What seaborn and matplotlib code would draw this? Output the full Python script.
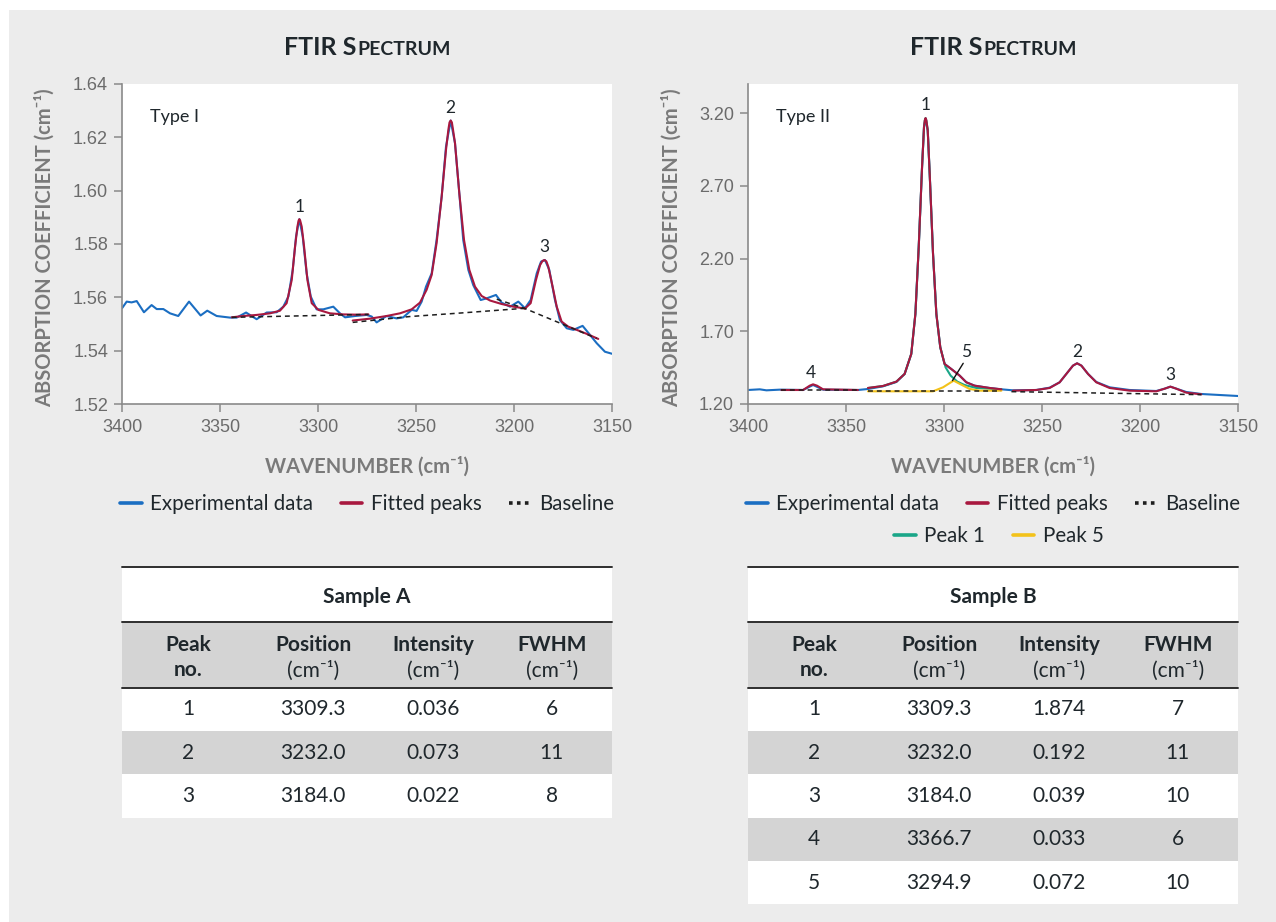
import matplotlib
matplotlib.use("Agg")
import matplotlib.pyplot as plt
from matplotlib.lines import Line2D
from matplotlib.patches import Rectangle
from matplotlib.ticker import FormatStrFormatter
import seaborn as sns

# ------------------------------------------------------------------
# Sample A (Type I) spectrum
# ------------------------------------------------------------------
a_exp_wn = [3400.0, 3397.6, 3395.1, 3392.5, 3388.8, 3384.9, 3382.3, 3378.9, 3375.5, 3371.3,
            3365.8, 3359.9, 3356.5, 3351.7, 3344.9, 3341.5, 3336.7, 3331.3, 3326.2, 3321.1,
            3317.7, 3315.1, 3312.9, 3311.2, 3309.5, 3307.8, 3305.8, 3303.7, 3300.7, 3297.3,
            3292.2, 3288.8, 3286.2, 3281.1, 3275.2, 3272.6, 3270.1, 3265.0, 3259.9, 3256.5,
            3252.2, 3249.7, 3247.1, 3244.9, 3242.0, 3239.5, 3236.9, 3234.7, 3232.3, 3230.1,
            3227.9, 3225.9, 3223.3, 3220.8, 3217.0, 3214.0, 3209.2, 3206.3, 3202.0, 3197.8,
            3194.4, 3191.5, 3188.4, 3186.2, 3184.2, 3182.0, 3179.1, 3176.6, 3173.1, 3169.7,
            3165.0, 3161.2, 3157.8, 3153.6, 3149.8]
a_exp_abs = [1.5559, 1.5584, 1.5581, 1.5586, 1.5544, 1.5571, 1.5556, 1.5556, 1.5540, 1.5530,
             1.5584, 1.5532, 1.5550, 1.5530, 1.5524, 1.5524, 1.5543, 1.5518, 1.5543, 1.5544,
             1.5565, 1.5603, 1.5703, 1.5828, 1.5893, 1.5828, 1.5690, 1.5603, 1.5555, 1.5555,
             1.5565, 1.5540, 1.5525, 1.5530, 1.5534, 1.5528, 1.5506, 1.5530, 1.5521, 1.5525,
             1.5553, 1.5549, 1.5584, 1.5640, 1.5690, 1.5815, 1.5978, 1.6165, 1.6263, 1.6178,
             1.5990, 1.5815, 1.5703, 1.5646, 1.5590, 1.5596, 1.5609, 1.5580, 1.5565, 1.5584,
             1.5559, 1.5590, 1.5690, 1.5734, 1.5740, 1.5703, 1.5590, 1.5515, 1.5484, 1.5478,
             1.5493, 1.5459, 1.5428, 1.5396, 1.5388]

a_fit1_wn = [3344.0, 3338.1, 3331.3, 3324.5, 3319.4, 3316.0, 3313.4, 3311.7, 3310.5, 3309.9,
             3309.5, 3309.1, 3308.3, 3307.1, 3305.4, 3303.2, 3299.8, 3293.9, 3287.1, 3280.3,
             3274.3]
a_fit1_abs = [1.5525, 1.5530, 1.5534, 1.5540, 1.5550, 1.5578, 1.5665, 1.5790, 1.5865, 1.5888,
              1.5893, 1.5888, 1.5865, 1.5790, 1.5665, 1.5578, 1.5553, 1.5540, 1.5536, 1.5535,
              1.5536]

a_fit2_wn = [3282.3, 3273.5, 3265.0, 3258.2, 3252.2, 3248.0, 3244.6, 3242.0, 3239.5, 3236.9,
             3234.7, 3233.5, 3232.9, 3232.3, 3231.7, 3231.1, 3230.1, 3227.9, 3225.5, 3222.8,
             3219.9, 3216.5, 3212.2, 3206.3, 3200.3, 3194.4]
a_fit2_abs = [1.5513, 1.5520, 1.5530, 1.5540, 1.5555, 1.5580, 1.5628, 1.5684, 1.5803, 1.5978,
              1.6153, 1.6228, 1.6256, 1.6263, 1.6256, 1.6228, 1.6178, 1.5990, 1.5815, 1.5703,
              1.5640, 1.5605, 1.5588, 1.5575, 1.5565, 1.5558]

a_fit3_wn = [3194.4, 3191.5, 3188.8, 3186.7, 3185.5, 3184.5, 3183.5, 3182.5, 3180.3, 3178.2,
             3175.7, 3172.3, 3168.0, 3162.9, 3157.0]
a_fit3_abs = [1.5558, 1.5578, 1.5665, 1.5721, 1.5736, 1.5740, 1.5735, 1.5715, 1.5640, 1.5565,
              1.5509, 1.5490, 1.5478, 1.5463, 1.5444]

a_base1_wn = [3344.0, 3274.3]
a_base1_abs = [1.5525, 1.5536]
a_base2_wn = [3282.3, 3253.1, 3227.6, 3194.4]
a_base2_abs = [1.5506, 1.5528, 1.5541, 1.5559]
a_base3_wn = [3208.8, 3194.4, 3157.8]
a_base3_abs = [1.5593, 1.5558, 1.5446]

a_label_text = ["1", "2", "3"]
a_label_wn = [3309.5, 3232.3, 3184.5]
a_label_abs = [1.5940, 1.6309, 1.5790]

# ------------------------------------------------------------------
# Sample B (Type II) spectrum
# ------------------------------------------------------------------
b_exp_wn = [3400.0, 3394.0, 3390.6, 3383.8, 3371.9, 3366.8, 3361.7, 3343.9, 3338.8, 3331.1,
            3324.3, 3320.1, 3316.7, 3314.6, 3312.9, 3311.2, 3310.2, 3309.4, 3308.3, 3307.3,
            3305.6, 3303.9, 3301.9, 3299.7, 3296.3, 3292.0, 3288.6, 3284.4, 3276.7, 3270.7,
            3264.8, 3252.9, 3246.1, 3241.0, 3237.6, 3234.2, 3232.1, 3229.9, 3226.5, 3222.3,
            3215.5, 3205.3, 3191.7, 3187.4, 3184.5, 3181.5, 3176.4, 3168.7, 3159.4, 3150.0]
b_exp_abs = [1.2963, 1.3009, 1.2940, 1.2986, 1.2963, 1.3307, 1.2986, 1.2963, 1.3032, 1.3216,
             1.3514, 1.4064, 1.5440, 1.8193, 2.2780, 2.8284, 3.1037, 3.1610, 3.0807, 2.7826,
             2.2321, 1.8193, 1.5899, 1.4752, 1.4408, 1.3950, 1.3491, 1.3261, 1.3101, 1.3009,
             1.2940, 1.2963, 1.3124, 1.3491, 1.4064, 1.4638, 1.4798, 1.4638, 1.4064, 1.3514,
             1.3147, 1.2963, 1.2894, 1.3055, 1.3193, 1.3055, 1.2826, 1.2688, 1.2619, 1.2550]

b_fit1_wn = [3383.0, 3371.9, 3368.5, 3366.8, 3364.8, 3361.7, 3343.9]
b_fit1_abs = [1.2963, 1.2963, 1.3261, 1.3353, 1.3261, 1.3009, 1.2963]

b_fit2_wn = [3338.8, 3331.1, 3324.3, 3320.1, 3316.7, 3314.6, 3312.9, 3311.2, 3310.2, 3309.8,
             3309.4, 3309.0, 3308.3, 3307.3, 3305.6, 3303.9, 3301.9, 3299.7, 3296.3, 3292.0,
             3288.6, 3284.4, 3276.7, 3270.7]
b_fit2_abs = [1.3101, 1.3239, 1.3537, 1.4064, 1.5440, 1.8193, 2.2780, 2.8284, 3.1037, 3.1500,
              3.1656, 3.1500, 3.0807, 2.7826, 2.2321, 1.8193, 1.5899, 1.4752, 1.4408, 1.3950,
              1.3491, 1.3261, 1.3101, 1.3009]

b_fit3_wn = [3264.8, 3252.9, 3246.1, 3241.0, 3237.6, 3234.2, 3232.1, 3229.9, 3226.5, 3222.3,
             3215.5, 3205.3, 3191.7, 3187.4, 3184.5, 3181.5, 3176.4, 3168.7]
b_fit3_abs = [1.2917, 1.2963, 1.3101, 1.3491, 1.4064, 1.4638, 1.4798, 1.4638, 1.4064, 1.3491,
              1.3101, 1.2917, 1.2872, 1.3055, 1.3193, 1.3055, 1.2780, 1.2665]

b_peak1_wn = [3338.8, 3331.1, 3324.3, 3320.1, 3316.7, 3314.6, 3312.9, 3311.2, 3310.2, 3309.8,
              3309.4, 3309.0, 3308.3, 3307.3, 3305.6, 3303.9, 3301.9, 3299.2, 3296.6, 3293.2,
              3289.5, 3283.5, 3270.7]
b_peak1_abs = [1.3101, 1.3239, 1.3537, 1.4064, 1.5440, 1.8193, 2.2780, 2.8284, 3.1037, 3.1500,
               3.1656, 3.1500, 3.0807, 2.7826, 2.2321, 1.8193, 1.5899, 1.4523, 1.3950, 1.3537,
               1.3307, 1.3101, 1.3009]

b_peak5_wn = [3338.8, 3305.6, 3300.5, 3295.1, 3291.2, 3286.9, 3281.8, 3270.7]
b_peak5_abs = [1.2872, 1.2872, 1.3147, 1.3606, 1.3330, 1.3032, 1.2917, 1.2917]

b_base1_wn = [3383.0, 3343.9]
b_base1_abs = [1.2963, 1.2963]
b_base2_wn = [3338.8, 3270.7]
b_base2_abs = [1.2872, 1.2872]
b_base3_wn = [3265.6, 3168.7]
b_base3_abs = [1.2849, 1.2642]

b_label_text = ["1", "4", "5", "2", "3"]
b_label_wn = [3309.4, 3368.0, 3288.9, 3232.0, 3184.5]
b_label_abs = [3.2528, 1.4133, 1.5555, 1.5555, 1.3995]
b_leader_wn = [3290.2, 3295.7]
b_leader_abs = [1.4798, 1.3606]

# ------------------------------------------------------------------
# Axis ticks
# ------------------------------------------------------------------
x_ticks = [3400, 3350, 3300, 3250, 3200, 3150]
a_y_ticks = [1.52, 1.54, 1.56, 1.58, 1.60, 1.62, 1.64]
b_y_ticks = [1.20, 1.70, 2.20, 2.70, 3.20]

# ------------------------------------------------------------------
# Tables
# ------------------------------------------------------------------
table_head_1 = ["Peak", "Position", "Intensity", "FWHM"]
table_head_2 = ["no.", "(cm\u207b\u00b9)", "(cm\u207b\u00b9)", "(cm\u207b\u00b9)"]

a_peak_no = ["1", "2", "3"]
a_position = ["3309.3", "3232.0", "3184.0"]
a_intensity = ["0.036", "0.073", "0.022"]
a_fwhm = ["6", "11", "8"]

b_peak_no = ["1", "2", "3", "4", "5"]
b_position = ["3309.3", "3232.0", "3184.0", "3366.7", "3294.9"]
b_intensity = ["1.874", "0.192", "0.039", "0.033", "0.072"]
b_fwhm = ["7", "11", "10", "6", "10"]

# ------------------------------------------------------------------
sns.set_theme(style="white")
FAM = ["Lato", "DejaVu Sans"]
plt.rcParams["font.family"] = FAM

BLUE = "#1b6ec2"
RED = "#a8183f"
GREEN = "#1aa688"
YELLOW = "#f3c21a"
BASE = "#1e1e1e"
SPINE = "#8a8a8a"
TICKLBL = "#6b6b6b"
AXLBL = "#7a7a7a"
TXT = "#1f272c"
GREY_ROW = "#d4d4d4"

W, H = 1276, 922
fig = plt.figure(figsize=(W / 100, H / 100), dpi=100, facecolor="white")
fig.patches.append(Rectangle((9 / W, 0), 1 - 9 / W, 1 - 10 / H, transform=fig.transFigure,
                             facecolor="#ececec", edgecolor="none", zorder=-10))


def fx(px):
    return px / W


def fy(py):
    return 1 - py / H


axA = fig.add_axes([fx(122), fy(404), 490 / W, 320 / H])
axB = fig.add_axes([fx(748), fy(404), 490 / W, 320 / H])


def line(ax, x, y, color, lw=1.5, ls="-", z=2):
    sns.lineplot(x=x, y=y, ax=ax, color=color, linewidth=lw, linestyle=ls,
                 estimator=None, sort=False, zorder=z,
                 solid_joinstyle="round", solid_capstyle="round")


DASH = (0, (3.2, 2.6))

# Sample A
line(axA, a_exp_wn, a_exp_abs, BLUE, 1.5, z=2)
for xw, ya in [(a_fit1_wn, a_fit1_abs), (a_fit2_wn, a_fit2_abs), (a_fit3_wn, a_fit3_abs)]:
    line(axA, xw, ya, RED, 1.5, z=3)
for xw, ya in [(a_base1_wn, a_base1_abs), (a_base2_wn, a_base2_abs), (a_base3_wn, a_base3_abs)]:
    line(axA, xw, ya, BASE, 1.1, DASH, z=4)
for t, xw, ya in zip(a_label_text, a_label_wn, a_label_abs):
    axA.text(xw, ya, t, ha="center", va="center", fontsize=12.5, color=TXT)

# Sample B
line(axB, b_exp_wn, b_exp_abs, BLUE, 1.5, z=2)
line(axB, b_peak1_wn, b_peak1_abs, GREEN, 1.5, z=3)
line(axB, b_peak5_wn, b_peak5_abs, YELLOW, 1.5, z=3)
for xw, ya in [(b_fit1_wn, b_fit1_abs), (b_fit2_wn, b_fit2_abs), (b_fit3_wn, b_fit3_abs)]:
    line(axB, xw, ya, RED, 1.5, z=4)
for xw, ya in [(b_base1_wn, b_base1_abs), (b_base2_wn, b_base2_abs), (b_base3_wn, b_base3_abs)]:
    line(axB, xw, ya, BASE, 1.1, DASH, z=5)
line(axB, b_leader_wn, b_leader_abs, "#111111", 1.0, z=6)
for t, xw, ya in zip(b_label_text, b_label_wn, b_label_abs):
    axB.text(xw, ya, t, ha="center", va="center", fontsize=12.5, color=TXT)


def style_spectrum(ax, yticks, ylim, type_text, ylab_x):
    ax.set_facecolor("white")
    ax.set_xlim(3400, 3150)
    ax.set_ylim(*ylim)
    ax.set_xticks(x_ticks)
    ax.set_yticks(yticks)
    ax.yaxis.set_major_formatter(FormatStrFormatter("%.2f"))
    ax.xaxis.set_major_formatter(FormatStrFormatter("%d"))
    for s in ["top", "right"]:
        ax.spines[s].set_visible(False)
    for s in ["left", "bottom"]:
        ax.spines[s].set_color(SPINE)
        ax.spines[s].set_linewidth(1.2)
    ax.tick_params(axis="both", which="major", direction="out", length=6, width=1.1,
                   color=SPINE, labelcolor=TICKLBL, labelsize=13,
                   labelfontfamily="Liberation Sans", left=True, bottom=True)
    ax.tick_params(axis="x", pad=5)
    ax.tick_params(axis="y", pad=4)
    ax.set_xlabel("WAVENUMBER (cm\u207b\u00b9)", fontsize=14.5, weight="bold", color=AXLBL)
    ax.set_ylabel("ABSORPTION COEFFICIENT (cm\u207b\u00b9)", fontsize=14.5, weight="bold",
                  color=AXLBL)
    ax.xaxis.set_label_coords(0.5, -0.194)
    ax.xaxis.label.set_va("center")
    ax.yaxis.set_label_coords(ylab_x, 0.487)
    ax.yaxis.label.set_va("center")
    ax.grid(False)
    ax.text(0.057, 0.897, type_text, transform=ax.transAxes, ha="left", va="center",
            fontsize=13, color=TXT)


style_spectrum(axA, a_y_ticks, (1.52, 1.64), "Type I", -0.157)
style_spectrum(axB, b_y_ticks, (1.20, 3.40), "Type II", -0.155)

# Titles in small caps
renderer = fig.canvas.get_renderer()


def smallcaps_title(cx_px, base_px, big, small):
    t1 = fig.text(0, fy(base_px), big, fontsize=18, weight="bold", color=TXT, va="baseline")
    t2 = fig.text(0, fy(base_px), small, fontsize=14, weight="bold", color=TXT, va="baseline")
    w1 = t1.get_window_extent(renderer).width
    w2 = t2.get_window_extent(renderer).width
    x0 = cx_px - (w1 + w2) / 2
    t1.set_x(fx(x0))
    t2.set_x(fx(x0 + w1 + 0.5))


smallcaps_title(367, 55, "FTIR S", "PECTRUM")
smallcaps_title(993, 55, "FTIR S", "PECTRUM")

# Legends
h_exp = Line2D([], [], color=BLUE, lw=2.6)
h_fit = Line2D([], [], color=RED, lw=2.6)
h_base = Line2D([], [], color=BASE, lw=2.6, linestyle=(0, (1, 1.2)))
h_p1 = Line2D([], [], color=GREEN, lw=2.6)
h_p5 = Line2D([], [], color=YELLOW, lw=2.6)
leg_kw = dict(loc="center", frameon=False, prop={"family": FAM, "size": 14.8},
              handlelength=1.05, handletextpad=0.4, columnspacing=1.35, labelcolor=TXT,
              borderpad=0, borderaxespad=0)
fig.legend([h_exp, h_fit, h_base], ["Experimental data", "Fitted peaks", "Baseline"],
           ncol=3, bbox_to_anchor=(fx(367), fy(504)), **leg_kw)
fig.legend([h_exp, h_fit, h_base], ["Experimental data", "Fitted peaks", "Baseline"],
           ncol=3, bbox_to_anchor=(fx(993), fy(504)), **leg_kw)
fig.legend([h_p1, h_p5], ["Peak 1", "Peak 5"],
           ncol=2, bbox_to_anchor=(fx(999), fy(536)), **leg_kw)

# Tables
TITLE_BOTTOM = 55.0
HEADER_BOTTOM = 120.4
ROW_H = 43.3
col_x = [0.135, 0.39, 0.635, 0.877]
TFS = 15


def draw_table(left_px, title, cols):
    n = len(cols[0])
    total = HEADER_BOTTOM + n * ROW_H
    ax = fig.add_axes([fx(left_px), fy(567.3 + total), 490 / W, total / H])
    ax.set_facecolor("white")
    ax.set_xlim(0, 1)
    ax.set_ylim(total, 0)
    ax.set_xticks([])
    ax.set_yticks([])
    for s in ax.spines.values():
        s.set_visible(False)
    ax.axhspan(TITLE_BOTTOM, HEADER_BOTTOM, color=GREY_ROW, lw=0, zorder=0)
    for i in range(n):
        if i % 2 == 1:
            ax.axhspan(HEADER_BOTTOM + i * ROW_H, HEADER_BOTTOM + (i + 1) * ROW_H,
                       color=GREY_ROW, lw=0, zorder=0)
    for yl in [0, TITLE_BOTTOM, HEADER_BOTTOM]:
        ax.axhline(yl, color="#2e2e2e", lw=1.4, zorder=2, clip_on=False)
    ax.text(0.5, 30, title, ha="center", va="center", fontsize=TFS, weight="bold", color=TXT)
    for j, x in enumerate(col_x):
        ax.text(x, 78, table_head_1[j], ha="center", va="center", fontsize=TFS,
                weight="bold", color=TXT)
        ax.text(x, 103, table_head_2[j], ha="center", va="center", fontsize=TFS,
                weight="bold" if j == 0 else "normal", color=TXT)
        for i in range(n):
            ax.text(x, HEADER_BOTTOM + (i + 0.5) * ROW_H, cols[j][i], ha="center",
                    va="center", fontsize=TFS, color=TXT)


draw_table(122, "Sample A", [a_peak_no, a_position, a_intensity, a_fwhm])
draw_table(748, "Sample B", [b_peak_no, b_position, b_intensity, b_fwhm])

fig.savefig("out.png", dpi=100, facecolor=fig.get_facecolor())
